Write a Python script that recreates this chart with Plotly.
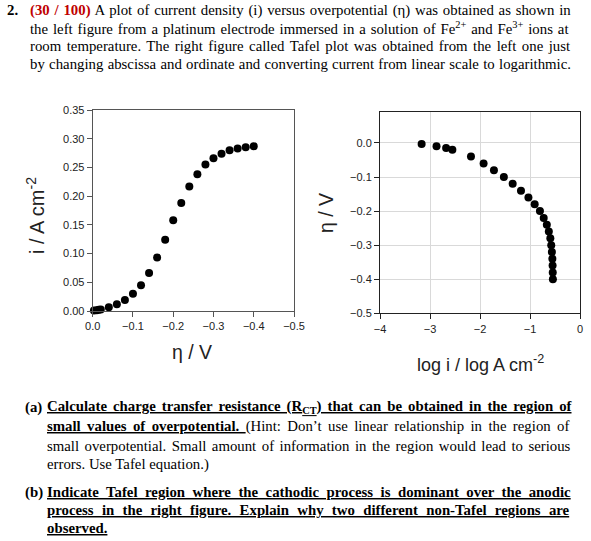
import numpy as np
import plotly.graph_objects as go

W, H = 591, 541

# overpotential (V) and current density (A cm-2)
eta = [-0.003, -0.01, -0.015, -0.02, -0.04, -0.06, -0.08, -0.10, -0.12, -0.14, -0.16,
       -0.18, -0.20, -0.22, -0.24, -0.26, -0.28, -0.30, -0.32, -0.34, -0.36, -0.38, -0.40]
current = [0.00068, 0.00135, 0.0021, 0.0028, 0.0066, 0.0118, 0.019, 0.030, 0.045, 0.066,
           0.093, 0.124, 0.158, 0.188, 0.217, 0.238, 0.255, 0.266, 0.274, 0.280, 0.283,
           0.285, 0.287]

left_yticks = [0.0, 0.05, 0.10, 0.15, 0.20, 0.25, 0.30, 0.35]
left_xticks = [0.0, -0.1, -0.2, -0.3, -0.4, -0.5]
right_xticks = [-4, -3, -2, -1, 0]
right_yticks = [0.0, -0.1, -0.2, -0.3, -0.4, -0.5]

top_lines = [
    "<b><span style='color:#c00000'>(30 / 100)</span></b> A plot of current density (i) versus overpotential (η) was obtained as shown in",
    "the left figure from a platinum electrode immersed in a solution of Fe<sup>2+</sup> and Fe<sup>3+</sup> ions at",
    "room temperature. The right figure called Tafel plot was obtained from the left one just",
    "by changing abscissa and ordinate and converting current from linear scale to logarithmic.",
]
part_a = [
    "<b><u>Calculate charge transfer resistance (R<sub>CT</sub>) that can be obtained in the region of</u></b>",
    "<b><u>small values of overpotential. </u></b>(Hint: Don’t use linear relationship in the region of",
    "small overpotential. Small amount of information in the region would lead to serious",
    "errors. Use Tafel equation.)",
]
part_b = [
    "<b><u>Indicate Tafel region where the cathodic process is dominant over the anodic</u></b>",
    "<b><u>process in the right figure. Explain why two different non-Tafel regions are</u></b>",
    "<b><u>observed.</u></b>",
]

# extra word spacing (px) to imitate the justified paragraphs
top_spacing = [1.1, 1.2, 1.8, 0.6]
a_spacing = [2.3, 2.7, 1.8, 0]
b_spacing = [3.8, 4.6, 0]

log_i = np.log10(current)

fig = go.Figure()
fig.add_trace(go.Scatter(x=eta, y=current, mode="markers", cliponaxis=False,
                         marker=dict(color="black", size=8), xaxis="x", yaxis="y"))
fig.add_trace(go.Scatter(x=log_i, y=eta, mode="markers", cliponaxis=False,
                         marker=dict(color="black", size=8), xaxis="x2", yaxis="y2"))

tick_font = dict(family="Liberation Sans, Arial", size=11, color="#222")
axis_common = dict(showline=True, mirror=True, ticks="outside", ticklen=5,
                   zeroline=False, tickfont=tick_font, automargin=False)


def py(px):
    return 1 - px / H


def px_x(px):
    return px / W


def spaced(text, ws):
    if ws:
        return f"<span style='word-spacing:{ws}px'>{text}</span>"
    return text


fig.update_layout(
    width=W, height=H, showlegend=False, autosize=False,
    margin=dict(l=0, r=0, t=0, b=0, pad=0, autoexpand=False),
    paper_bgcolor="white", plot_bgcolor="white",
    xaxis=dict(domain=[px_x(92.7), px_x(294)], range=[0, -0.5], tickvals=left_xticks,
               tickformat=".1f", showgrid=False, linecolor="#555", tickcolor="#555",
               anchor="y", **axis_common),
    yaxis=dict(domain=[py(311), py(110)], range=[0, 0.35], tickvals=left_yticks,
               tickformat=".2f", showgrid=False, linecolor="#555", tickcolor="#555",
               anchor="x", **axis_common),
    xaxis2=dict(domain=[px_x(380), px_x(580)], range=[-4, 0], tickvals=right_xticks,
                showgrid=True, gridcolor="#d9d9d9", linecolor="#222", tickcolor="#222",
                anchor="y2", **axis_common),
    yaxis2=dict(domain=[py(313.3), py(112.3)], range=[-0.5, 0.09], tickvals=right_yticks,
                tickformat=".1f", showgrid=True, gridcolor="#d9d9d9", linecolor="#222",
                tickcolor="#222", anchor="x2", **axis_common),
)

annotations = []
serif = dict(family="Liberation Serif, Times New Roman", size=14.8, color="black")

# header paragraph
annotations.append(dict(text="<b>2.</b>", x=px_x(6), y=py(10)))
for k, line in enumerate(top_lines):
    annotations.append(dict(text=spaced(line, top_spacing[k]), x=px_x(29), y=py(10 + 18 * k)))

# question (a)
annotations.append(dict(text="<b>(a)</b>", x=px_x(24), y=py(407)))
for k, line in enumerate(part_a):
    annotations.append(dict(text=spaced(line, a_spacing[k]), x=px_x(46), y=py(407 + 19.3 * k)))

# question (b)
annotations.append(dict(text="<b>(b)</b>", x=px_x(24), y=py(492)))
for k, line in enumerate(part_b):
    annotations.append(dict(text=spaced(line, b_spacing[k]), x=px_x(46), y=py(492 + 18 * k)))

for a in annotations:
    a.update(xref="paper", yref="paper", xanchor="left", yanchor="middle",
             showarrow=False, font=serif, align="left", borderpad=0)

# axis titles
sans = "Liberation Sans, Arial"
annotations += [
    dict(text="i / A cm<sup>-2</sup>", x=px_x(36), y=py(216), textangle=-90,
         font=dict(family=sans, size=20, color="#222")),
    dict(text="η / V", x=px_x(192), y=py(352),
         font=dict(family=sans, size=19.5, color="#222")),
    dict(text="η / V", x=px_x(326), y=py(213), textangle=-90,
         font=dict(family=sans, size=19.5, color="#222")),
    dict(text="log i / log A cm<sup>-2</sup>", x=px_x(480), y=py(363),
         font=dict(family=sans, size=18, color="#222")),
]
for a in annotations[-4:]:
    a.update(xref="paper", yref="paper", xanchor="center", yanchor="middle",
             showarrow=False)

fig.update_layout(annotations=annotations)
fig.write_html("out.html", config={"displayModeBar": False},
               post_script="document.body.style.margin='0';")
